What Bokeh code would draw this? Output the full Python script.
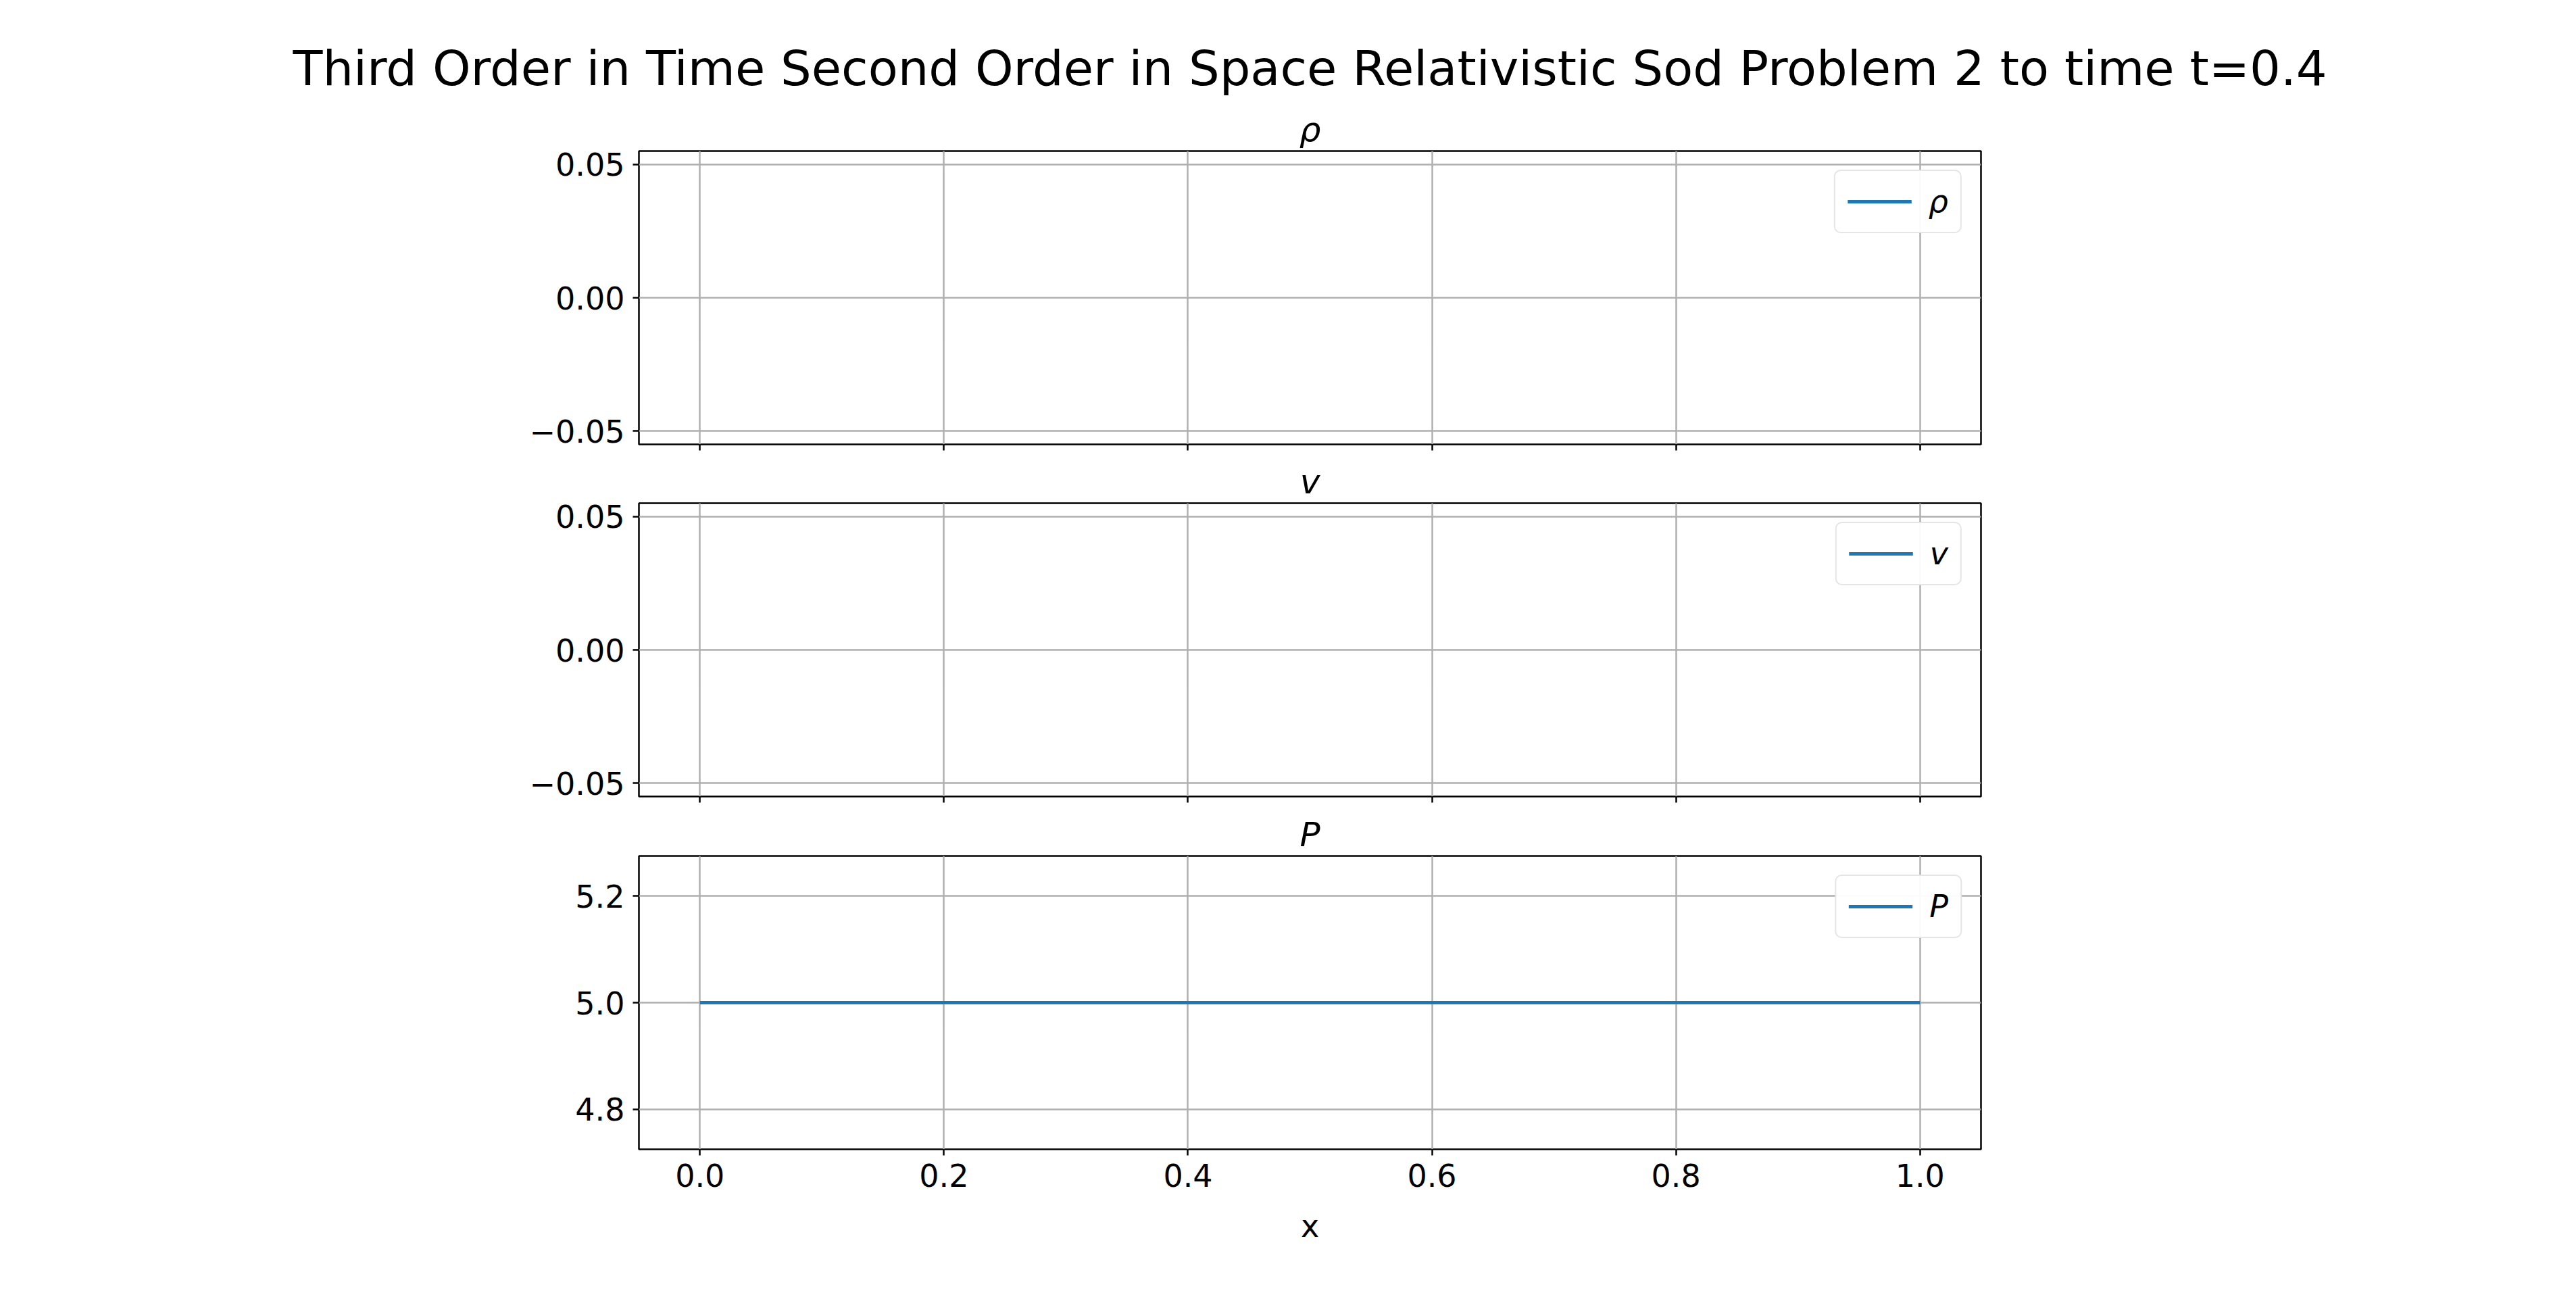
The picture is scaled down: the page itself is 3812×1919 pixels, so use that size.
import math
from bokeh.plotting import figure
from bokeh.layouts import column
from bokeh.models import Range1d, FixedTicker, Title, Legend, LegendItem
from bokeh.embed import file_html
from bokeh.resources import INLINE

x = [0.0, 0.1, 0.2, 0.3, 0.4, 0.5, 0.6, 0.7, 0.8, 0.9, 1.0]
rho = [math.nan] * len(x)
v = [math.nan] * len(x)
P = [5.0] * len(x)

x_ticks = [0.0, 0.2, 0.4, 0.6, 0.8, 1.0]
small_ticks = [-0.05, 0.0, 0.05]
small_labels = {-0.05: "\u22120.05", 0.0: "0.00", 0.05: "0.05"}
p_ticks = [4.8, 5.0, 5.2]
p_labels = {4.8: "4.8", 5.0: "5.0", 5.2: "5.2"}

FONT = "DejaVu Sans"
BLUE = "#1f77b4"
TXT = "46px"


def panel(name, y, yr, yticks, ylabels, top, bottom, last=False, main=None):
    p = figure(frame_width=1986, frame_height=434, output_backend="svg",
               toolbar_location=None, x_range=Range1d(-0.05, 1.05),
               y_range=Range1d(*yr), min_border_left=945, min_border_right=850,
               min_border_top=top, min_border_bottom=bottom)
    sub = Title(text=name, align="center", text_font=FONT, text_font_style="italic",
                text_font_size="50px", text_color="black", standoff=6)
    if main:
        p.title.text = main
        p.title.align = "center"
        p.title.text_font = FONT
        p.title.text_font_style = "normal"
        p.title.text_font_size = "72px"
        p.title.text_color = "black"
        p.title.standoff = 30
        p.title.offset = -120
    else:
        p.title = None
    p.add_layout(sub, "above")
    p.outline_line_color = "black"
    p.outline_line_width = 2.5
    for ax in (p.xaxis[0], p.yaxis[0]):
        ax.axis_line_color = None
        ax.major_tick_line_width = 2.5
        ax.major_tick_out = 9
        ax.major_tick_in = 0
        ax.minor_tick_line_color = None
        ax.major_label_text_font = FONT
        ax.major_label_text_font_size = TXT
        ax.major_label_text_color = "black"
        ax.major_label_standoff = 12
    p.xaxis.ticker = FixedTicker(ticks=x_ticks)
    p.xaxis.major_label_overrides = {t: f"{t:.1f}" for t in x_ticks}
    p.yaxis.ticker = FixedTicker(ticks=yticks)
    p.yaxis.major_label_overrides = ylabels
    if last:
        p.xaxis.axis_label = "x"
        p.xaxis.axis_label_text_font = FONT
        p.xaxis.axis_label_text_font_size = TXT
        p.xaxis.axis_label_text_font_style = "normal"
        p.xaxis.axis_label_text_color = "black"
        p.xaxis.axis_label_standoff = 28
    else:
        p.xaxis.major_label_text_color = None
        p.xaxis.major_label_text_font_size = "1px"
    p.grid.grid_line_color = "#b0b0b0"
    p.grid.grid_line_width = 2.5
    r = p.line(x, y, line_color=BLUE, line_width=5)
    leg = Legend(items=[LegendItem(label=name, renderers=[r])], location="top_right",
                 label_text_font=FONT, label_text_font_style="italic",
                 label_text_font_size=TXT, label_text_color="black",
                 border_line_color="#cccccc", border_line_width=2.5, border_radius=10,
                 glyph_width=95, glyph_height=40, margin=28, padding=18, label_standoff=25)
    p.add_layout(leg)
    return p


p1 = panel("\u03c1", rho, (-0.055, 0.055), small_ticks, small_labels, 223, 20,
           main="Third Order in Time Second Order in Space Relativistic Sod Problem 2 to time t=0.4")
p2 = panel("v", v, (-0.055, 0.055), small_ticks, small_labels, 67, 20)
p3 = panel("P", P, (4.725, 5.275), p_ticks, p_labels, 68, 180, last=True)

layout = column(p1, p2, p3, spacing=0)
open("out.html", "w").write(file_html(layout, INLINE))
